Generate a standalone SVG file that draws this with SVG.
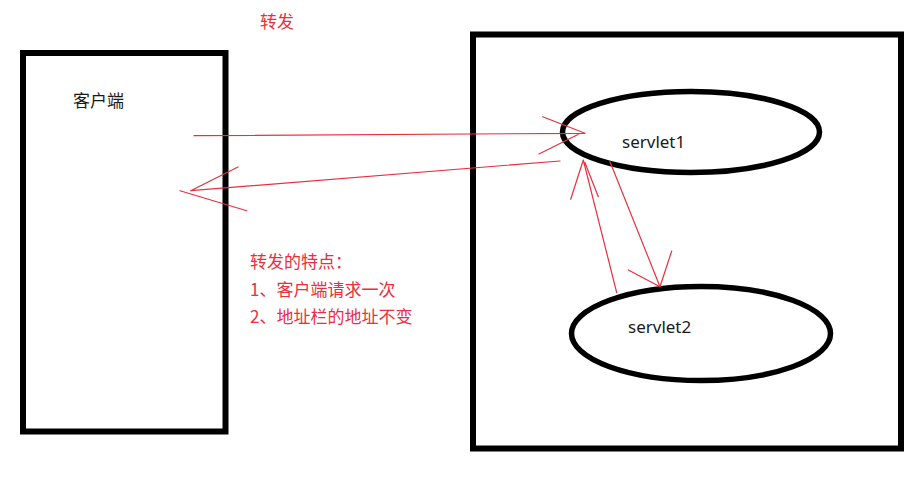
<svg xmlns="http://www.w3.org/2000/svg" width="921" height="480" viewBox="0 0 921 480">
<style>
.box{fill:none;stroke:#000;stroke-width:6}
.ell{fill:none;stroke:#000;stroke-width:5.5}
.lbl{font-family:"Noto Sans","Noto Sans CJK SC",sans-serif;font-size:17px;fill:#1a1a1a}
.red{font-family:"Noto Sans CJK SC",sans-serif;font-size:17px;fill:#e8303e}
.ln{stroke:#e8303e;stroke-width:1.2;fill:none;stroke-linecap:round}
</style>
<rect width="921" height="480" fill="#fff"/>
<text class="red" x="260" y="28">转发</text>
<g id="client">
<rect class="box" x="23" y="53" width="202.5" height="378.5"/>
<text class="lbl" x="73" y="107">客户端</text>
</g>
<g id="server">
<rect class="box" x="473" y="34.5" width="428" height="414"/>
</g>
<g id="servlet1">
<ellipse class="ell" cx="691" cy="132" rx="128.5" ry="40.5"/>
<text class="lbl" x="622" y="148">servlet1</text>
</g>
<g id="servlet2">
<ellipse class="ell" cx="701" cy="333.5" rx="129.5" ry="47"/>
<text class="lbl" x="628" y="333">servlet2</text>
</g>
<g id="note">
<text class="red" x="250" y="268">转发的特点：</text>
<text class="red" x="250" y="296">1、客户端请求一次</text>
<text class="red" x="250" y="323">2、地址栏的地址不变</text>
</g>
<g id="connectors">
<path class="ln" d="M194 135.7 L585 133.3 M542.7 116.7 L585 133.3 M539 154 L580 133.5"/>
<path class="ln" d="M560 161 L190.7 190.7 M238 167 L190.7 190.7 M180 190.7 L246.7 210.7"/>
<path class="ln" d="M616.7 292.7 L583.3 160 M570.7 199.3 L583.3 160 M598.3 196.7 L585 162.7"/>
<path class="ln" d="M610 161.7 L660 286.7 M628.3 270 L660 286.7 M671.7 251 L660 286.7"/>
</g>
</svg>
